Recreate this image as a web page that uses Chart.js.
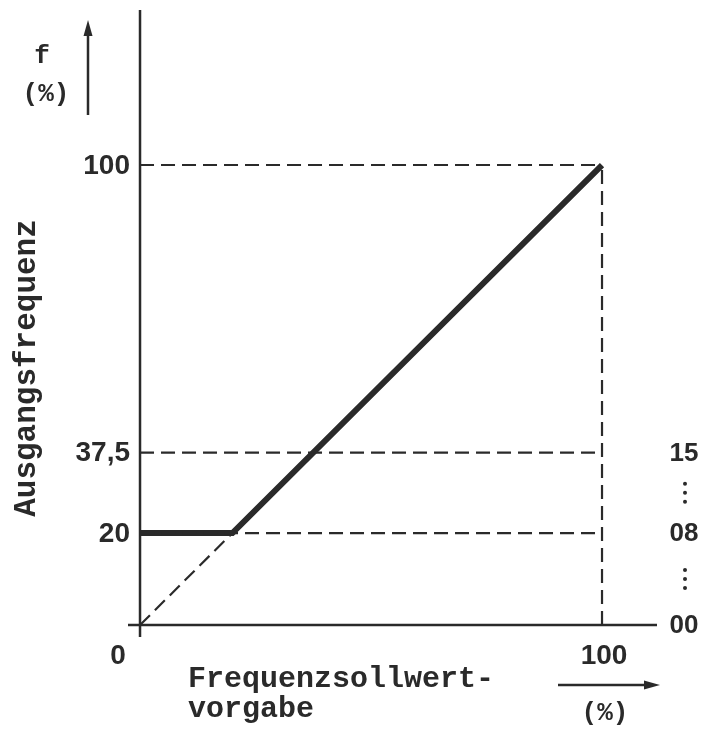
<!DOCTYPE html>
<html>
<head>
<meta charset="utf-8">
<script src="https://cdn.jsdelivr.net/npm/chart.js@4"></script>
<style>
  html, body { margin: 0; padding: 0; background: #fff; }
  #wrap { width: 707px; height: 734px; }
</style>
</head>
<body>
<div id="wrap"><canvas id="chart" width="707" height="734"></canvas></div>
<script>
        // Kennlinie: Frequenzsollwert (%) -> Ausgangsfrequenz (%)
        const curveX = [0, 20, 100];
        const curveY = [20, 20, 100];

        // gestrichelte Hilfslinien
        const refLevels = [100, 37.5, 20];
        const refLabels = ["100", "37,5", "20"];
        const diagX = [0, 20];
        const diagY = [0, 20];

        // Codes rechts
        const codeLevels = [37.5, 20, 0];
        const codeLabels = ["15", "08", "00"];

        const xTicks = ["0", "100"];
        const xRange = [-2.6, 111.9];
        const yRange = [-2.6, 133.7];

        const ink = "#2a2a2a";
        const dash = [14, 7];

        const pts = (xs, ys) => xs.map((x, i) => ({ x: x, y: ys[i] }));

        const datasets = [];
        // axes
        datasets.push({ data: pts([0, 0], yRange), borderColor: ink, borderWidth: 2.5 });
        datasets.push({ data: pts(xRange, [0, 0]), borderColor: ink, borderWidth: 2.5 });
        // dashed guide lines
        refLevels.forEach(lv => {
            datasets.push({ data: pts([0, 100], [lv, lv]), borderColor: ink, borderWidth: 2.2, borderDash: dash });
        });
        datasets.push({ data: pts([100, 100], [0, 100]), borderColor: ink, borderWidth: 2.2, borderDash: dash });
        datasets.push({ data: pts(diagX, diagY), borderColor: ink, borderWidth: 2.2, borderDash: dash });
        // main curve
        datasets.push({ data: pts(curveX, curveY), borderColor: ink, borderWidth: 6, borderCapStyle: 'butt' });

        datasets.forEach(d => {
            d.showLine = true;
            d.pointRadius = 0;
            d.fill = false;
            d.tension = 0;
        });

        const sans = "'Liberation Sans', Arial, sans-serif";
        const mono = "'Liberation Mono', 'DejaVu Sans Mono', monospace";

        function arrow(ctx, x1, y1, x2, y2) {
            ctx.save();
            ctx.strokeStyle = ink;
            ctx.fillStyle = ink;
            ctx.lineWidth = 2.5;
            const ang = Math.atan2(y2 - y1, x2 - x1);
            const hl = 16, hw = 4.5;
            ctx.beginPath();
            ctx.moveTo(x1, y1);
            ctx.lineTo(x2 - hl * Math.cos(ang), y2 - hl * Math.sin(ang));
            ctx.stroke();
            ctx.beginPath();
            ctx.moveTo(x2, y2);
            ctx.lineTo(x2 - hl * Math.cos(ang) - hw * Math.sin(ang), y2 - hl * Math.sin(ang) + hw * Math.cos(ang));
            ctx.lineTo(x2 - hl * Math.cos(ang) + hw * Math.sin(ang), y2 - hl * Math.sin(ang) - hw * Math.cos(ang));
            ctx.closePath();
            ctx.fill();
            ctx.restore();
        }

        const labelPlugin = {
            id: 'labels',
            afterDraw(chart) {
                const ctx = chart.ctx;
                const xs = chart.scales.x, ys = chart.scales.y;
                ctx.save();
                ctx.fillStyle = ink;
                ctx.textBaseline = 'middle';

                // y tick labels
                ctx.font = "bold 28px " + sans;
                ctx.textAlign = 'right';
                refLevels.forEach((lv, i) => {
                    ctx.fillText(refLabels[i], xs.getPixelForValue(0) - 10, ys.getPixelForValue(lv) + 1);
                });
                // x tick labels
                ctx.textAlign = 'center';
                ctx.fillText(xTicks[0], xs.getPixelForValue(0) - 22, ys.getPixelForValue(0) + 31);
                ctx.fillText(xTicks[1], xs.getPixelForValue(100) + 2, ys.getPixelForValue(0) + 31);

                // codes on the right
                const cx = chart.chartArea.right + 27;
                ctx.font = "bold 26px " + sans;
                codeLevels.forEach((lv, i) => {
                    ctx.fillText(codeLabels[i], cx, ys.getPixelForValue(lv) + 1);
                });
                for (let i = 0; i < codeLevels.length - 1; i++) {
                    const a = ys.getPixelForValue(codeLevels[i]);
                    const b = ys.getPixelForValue(codeLevels[i + 1]);
                    const m = (a + b) / 2;
                    [-9, 0, 9].forEach(o => {
                        ctx.beginPath();
                        ctx.arc(cx + 1, m + o, 2, 0, Math.PI * 2);
                        ctx.fill();
                    });
                }

                // axis titles
                ctx.font = "bold 30px " + mono;
                ctx.textAlign = 'left';
                ctx.fillText("Frequenzsollwert-", 188, 679);
                ctx.fillText("vorgabe", 188, 709);

                ctx.save();
                ctx.translate(27, 368);
                ctx.rotate(-Math.PI / 2);
                ctx.textAlign = 'center';
                ctx.font = "bold 31px " + mono;
                ctx.fillText("Ausgangsfrequenz", 0, 0);
                ctx.restore();

                ctx.textAlign = 'center';
                ctx.font = "bold 26px " + mono;
                ctx.fillText("f", 42, 56);
                ctx.fillText("(%)", 46, 94);
                ctx.fillText("(%)", 605, 713);

                arrow(ctx, 88, 115, 88, 20);
                arrow(ctx, 558, 685, 660, 685);
                ctx.restore();
            }
        };

        new Chart(document.getElementById('chart').getContext('2d'), {
            type: 'scatter',
            data: { datasets: datasets },
            options: {
                responsive: false,
                animation: false,
                layout: { padding: { left: 128, right: 50, top: 10, bottom: 97 } },
                plugins: { legend: { display: false }, tooltip: { enabled: false } },
                scales: {
                    x: { type: 'linear', min: xRange[0], max: xRange[1], display: false },
                    y: { type: 'linear', min: yRange[0], max: yRange[1], display: false }
                }
            },
            plugins: [labelPlugin]
        });
</script>
</body>
</html>
